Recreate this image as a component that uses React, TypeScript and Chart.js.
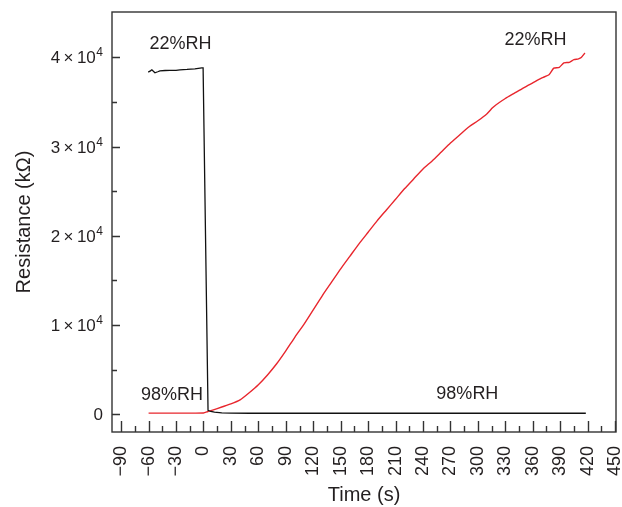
import React, { useEffect, useRef } from "react";
import { Chart, registerables } from "chart.js";

Chart.register(...registerables);

// ---- data ----
const blackTime = [-60.4, -58, -56.4, -53.1, -50, -47.6, -42, -36.7, -30, -25.8, -18, -9.4, -1.8, -0.4, 5, 8, 12, 20, 30, 50, 100, 200, 300, 418];
const blackRes = [38360, 38500, 38620, 38280, 38400, 38500, 38540, 38560, 38560, 38620, 38660, 38730, 38840, 38840, 420, 300, 220, 150, 120, 100, 100, 100, 100, 100];

const redTime = [-60, -30, 0, 5, 10, 20, 30, 40, 50, 60, 70, 80, 90, 100, 110, 120, 130, 140, 150, 160, 170, 180, 190, 200, 210, 220, 230, 240, 250, 260, 270, 280, 290, 300, 310, 316, 320, 330, 340, 350, 360, 370, 378, 383, 389, 394, 400, 405, 410, 413, 417];
const redRes = [120, 120, 130, 300, 450, 800, 1150, 1600, 2400, 3300, 4400, 5650, 7100, 8650, 10100, 11700, 13300, 14800, 16300, 17700, 19100, 20400, 21700, 22900, 24100, 25300, 26400, 27500, 28400, 29400, 30400, 31300, 32200, 32900, 33700, 34350, 34700, 35400, 36000, 36600, 37150, 37700, 38100, 38800, 38900, 39400, 39450, 39750, 39850, 40000, 40500];

const xTickValues = [-90, -75, -60, -45, -30, -15, 0, 15, 30, 45, 60, 75, 90, 105, 120, 135, 150, 165, 180, 195, 210, 225, 240, 255, 270, 285, 300, 315, 330, 345, 360, 375, 390, 405, 420, 435, 450];
const xMajorStep = 30;
const yTickValues = [0, 5000, 10000, 15000, 20000, 25000, 30000, 35000, 40000];
const yMajorStep = 10000;

const annotationTexts = ["22%RH", "22%RH", "98%RH", "98%RH"];
const annotationTimes = [-25, 363, -34.5, 288.5];
const annotationRes = [41540, 41990, 2100, 2300];

const FONT = "'Liberation Sans', Arial, Helvetica, sans-serif";
const TEXT = "#231f20";
const AXIS = "#333333";

const fmtX = (v: number) => (v % xMajorStep === 0 ? (v < 0 ? "\u2212" + Math.abs(v) : String(v)) : "");

const framePlugin = {
  id: "frameTicks",
  afterDraw(chart: any) {
    const { ctx, chartArea: a, scales } = chart;
    const xs = scales.x;
    const ys = scales.y;
    ctx.save();
    ctx.strokeStyle = AXIS;
    ctx.lineWidth = 1.4;
    ctx.strokeRect(a.left, a.top, a.right - a.left, a.bottom - a.top);
    ctx.beginPath();
    xTickValues.forEach((v) => {
      const px = Math.round(xs.getPixelForValue(v)) + 0.5;
      const len = v % xMajorStep === 0 ? 11 : 6;
      ctx.moveTo(px, a.bottom);
      ctx.lineTo(px, a.bottom - len);
    });
    yTickValues.forEach((v) => {
      const py = Math.round(ys.getPixelForValue(v)) + 0.5;
      const len = v % yMajorStep === 0 ? 8 : 5;
      ctx.moveTo(a.left, py);
      ctx.lineTo(a.left + len, py);
    });
    ctx.stroke();

    // y tick labels with superscript exponent
    ctx.fillStyle = TEXT;
    ctx.textBaseline = "alphabetic";
    ctx.textAlign = "left";
    const rightX = a.left - 9;
    yTickValues.forEach((v) => {
      if (v % yMajorStep !== 0) return;
      const py = ys.getPixelForValue(v);
      const base = py + 6;
      if (v === 0) {
        ctx.font = `17px ${FONT}`;
        const w = ctx.measureText("0").width;
        ctx.fillText("0", rightX - w, base);
        return;
      }
      const main = `${v / 10000}\u2009\u00d7\u200910`;
      const sup = "4";
      ctx.font = `12px ${FONT}`;
      const sw = ctx.measureText(sup).width;
      ctx.font = `17px ${FONT}`;
      const mw = ctx.measureText(main).width;
      ctx.fillText(main, rightX - sw - mw - 0.5, base);
      ctx.font = `12px ${FONT}`;
      ctx.fillText(sup, rightX - sw, base - 7);
    });

    ctx.font = `18px ${FONT}`;
    ctx.textAlign = "center";
    ctx.textBaseline = "middle";
    annotationTexts.forEach((t, i) => {
      ctx.fillText(t, xs.getPixelForValue(annotationTimes[i]), ys.getPixelForValue(annotationRes[i]));
    });
    ctx.restore();
  },
};

export default function App() {
  const ref = useRef<HTMLCanvasElement | null>(null);
  useEffect(() => {
    if (!ref.current) return;
    const chart = new Chart(ref.current, {
      type: "line",
      data: {
        datasets: [
          {
            data: blackTime.map((t, i) => ({ x: t, y: blackRes[i] })),
            borderColor: "#111111",
            borderWidth: 1.3,
            pointRadius: 0,
            tension: 0,
          },
          {
            data: redTime.map((t, i) => ({ x: t, y: redRes[i] })),
            borderColor: "#e8262d",
            borderWidth: 1.4,
            pointRadius: 0,
            tension: 0.2,
          },
        ],
      },
      options: {
        animation: false,
        responsive: false,
        layout: { padding: { left: 0, top: 12, right: 6, bottom: 0 } },
        plugins: { legend: { display: false }, tooltip: { enabled: false } },
        scales: {
          x: {
            type: "linear",
            min: -100,
            max: 451,
            grid: { display: false },
            border: { display: false },
            afterBuildTicks: (s: any) => {
              s.ticks = xTickValues.map((v) => ({ value: v }));
            },
            afterFit: (s: any) => {
              s.height = 75;
              s.paddingLeft = 0;
              s.paddingRight = 0;
            },
            ticks: {
              autoSkip: false,
              minRotation: 90,
              maxRotation: 90,
              padding: 6,
              color: TEXT,
              font: { family: FONT, size: 18 },
              callback: (v: any) => fmtX(Number(v)),
            },
            title: {
              display: true,
              text: "Time (s)",
              color: TEXT,
              font: { family: FONT, size: 20 },
              padding: { top: 0, bottom: 0 },
            },
          },
          y: {
            type: "linear",
            min: -2000,
            max: 45100,
            grid: { display: false },
            border: { display: false },
            afterBuildTicks: (s: any) => {
              s.ticks = yTickValues.map((v) => ({ value: v }));
            },
            afterFit: (s: any) => {
              s.width = 112;
              s.paddingTop = 0;
              s.paddingBottom = 0;
            },
            ticks: {
              autoSkip: false,
              padding: 8,
              color: TEXT,
              font: { family: FONT, size: 16 },
              callback: () => "",
            },
            title: {
              display: true,
              text: "Resistance (k\u03a9)",
              color: TEXT,
              font: { family: FONT, size: 20 },
              padding: { top: 12, bottom: 0 },
            },
          },
        },
      },
      plugins: [framePlugin],
    });
    return () => chart.destroy();
  }, []);
  return (
    <div style={{ position: "fixed", left: 0, top: 0, width: 622, height: 507, background: "#fff" }}>
      <canvas ref={ref} width={622} height={507} />
    </div>
  );
}
